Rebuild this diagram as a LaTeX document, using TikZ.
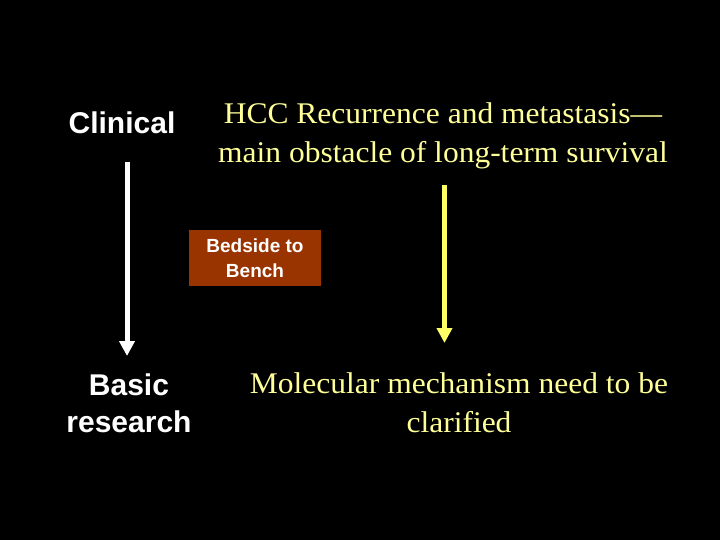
\documentclass[tikz,border=0pt]{standalone}
\usepackage{fontspec}
\setmainfont{Liberation Serif}[FakeStretch=1.05]
\setsansfont{Liberation Sans}
\usetikzlibrary{arrows.meta}
\definecolor{txtyellow}{HTML}{FFFF99}
\definecolor{arrowyellow}{HTML}{FFFF66}
\definecolor{boxbrown}{HTML}{993300}
\tikzset{
  sidelabel/.style={text=white, font=\sffamily\bfseries\fontsize{30}{37}\selectfont, align=center, anchor=base, inner sep=0pt},
  serifblock/.style={text=txtyellow, font=\rmfamily\fontsize{30}{39}\selectfont, align=center, anchor=base, inner sep=0pt},
  bridgebox/.style={fill=boxbrown, text=white, font=\sffamily\bfseries\fontsize{19}{25}\selectfont, align=center, minimum width=132pt, minimum height=56pt, inner sep=0pt},
  bigarrow/.style={line width=5pt, -{Triangle[width=15pt,length=15pt]}}
}
\begin{document}
\begin{tikzpicture}[x=1pt,y=-1pt]
\fill[black] (0,0) rectangle (720,540);
\useasboundingbox (0,0) rectangle (720,540);
\node[sidelabel] (clinical) at (122,134) {Clinical};
\node[sidelabel] (basic) at (129,432) {Basic\\research};
\node[serifblock] (hcc) at (443,163) {HCC Recurrence and metastasis—\\main obstacle of long-term survival};
\node[serifblock] (mol) at (459,432) {Molecular mechanism need to be\\clarified};
\node[bridgebox] (bench) at (255,258) {Bedside to\\Bench};
\coordinate (wtop) at (127,162);
\coordinate (wtip) at (127,356);
\coordinate (ytop) at (444.5,185);
\coordinate (ytip) at (444.5,343);
\draw[bigarrow, white] (wtop) -- (wtip);
\draw[bigarrow, arrowyellow] (ytop) -- (ytip);
\end{tikzpicture}
\end{document}
